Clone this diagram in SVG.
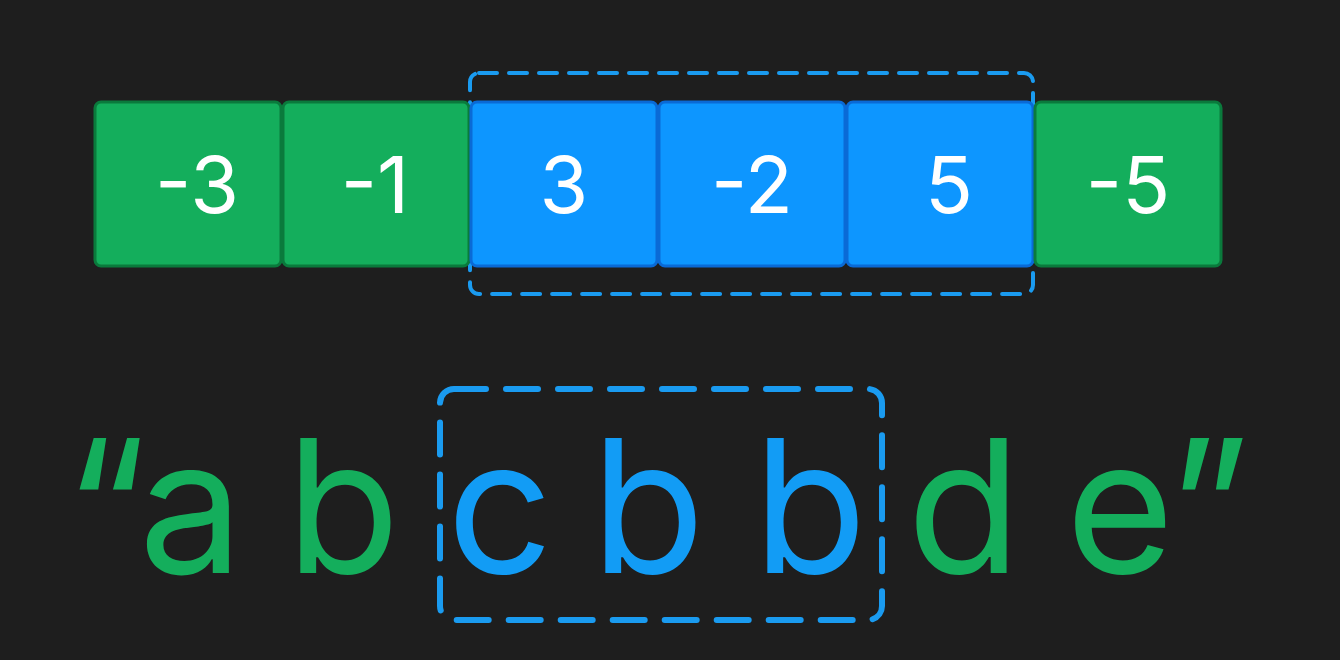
<svg xmlns="http://www.w3.org/2000/svg" width="1340" height="660" viewBox="0 0 1340 660">
<style>
.g{fill:#14ae5c;stroke:#0a7a3c;stroke-width:3}
.b{fill:#0d96ff;stroke:#0a6ad6;stroke-width:3}
.num{font-family:Inter,"Liberation Sans",sans-serif;font-size:79px;fill:#ffffff;text-anchor:middle}
.dash{fill:none;stroke:#1a9bf0;stroke-linecap:round}
.big{font-family:Inter,"Liberation Sans",sans-serif;font-size:186px;text-anchor:middle}
.gt{fill:#14ae5c}
.bt{fill:#129cf5}
</style>
<rect width="1340" height="660" fill="#1e1e1e"/>
<g id="connectors">
<rect class="dash" x="470" y="73" width="563" height="221" rx="9" stroke-width="4" stroke-dasharray="18 12"/>
<rect class="dash" x="440" y="389" width="442" height="231" rx="14" stroke-width="6" stroke-dasharray="32 20"/>
</g>
<g id="cell1"><rect class="g" x="95" y="102" width="186" height="164" rx="6"/><text class="num" x="197" y="213">-3</text></g>
<g id="cell2"><rect class="g" x="283" y="102" width="186" height="164" rx="6"/><text class="num" x="375" y="213">-1</text></g>
<g id="cell3"><rect class="b" x="471" y="102" width="186" height="164" rx="6"/><text class="num" x="564" y="213">3</text></g>
<g id="cell4"><rect class="b" x="659" y="102" width="186" height="164" rx="6"/><text class="num" x="752" y="213">-2</text></g>
<g id="cell5"><rect class="b" x="847" y="102" width="186" height="164" rx="6"/><text class="num" x="949" y="213">5</text></g>
<g id="cell6"><rect class="g" x="1035" y="102" width="186" height="164" rx="6"/><text class="num" x="1128" y="213">-5</text></g>
<g id="string">
<text class="big gt" x="106" y="573">“</text>
<text class="big gt" x="191" y="573">a</text>
<text class="big gt" x="343" y="573">b</text>
<text class="big bt" x="500" y="573">c</text>
<text class="big bt" x="648" y="573">b</text>
<text class="big bt" x="810" y="573">b</text>
<text class="big gt" x="964" y="573">d</text>
<text class="big gt" x="1120" y="573">e</text>
<text class="big gt" x="1209" y="573">”</text>
</g>
</svg>
